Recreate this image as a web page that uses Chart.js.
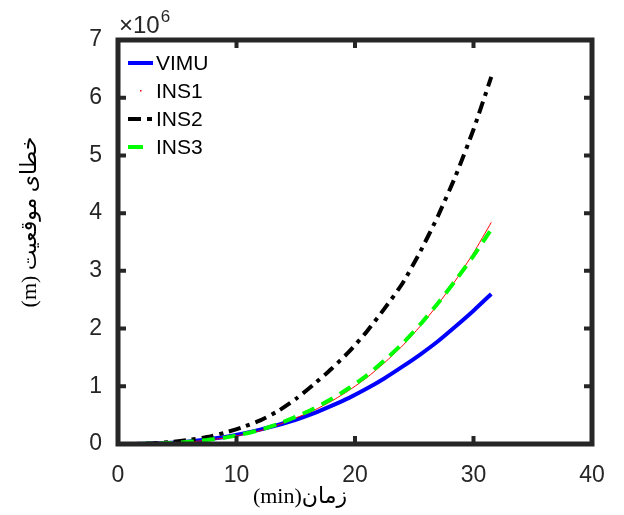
<!DOCTYPE html>
<html>
<head>
<meta charset="utf-8">
<script src="https://cdn.jsdelivr.net/npm/chart.js@4.4.0/dist/chart.umd.min.js"></script>
<style>
html,body{margin:0;background:#fff;}
#wrap{width:624px;height:515px;}
</style>
</head>
<body>
<div id="wrap"><canvas id="chart"></canvas></div>
<script>
// time axis (min) and position error in units of 1e6 m
const minutes=[0,1.5,3,4.5,6,7.5,9,10.5,12,13.5,15,16.5,18,19.5,21,22.5,24,25.5,27,28.5,30,31.5];
const vimu=[0,0.002,0.008,0.022,0.045,0.078,0.12,0.18,0.25,0.33,0.42,0.53,0.66,0.80,0.96,1.14,1.34,1.55,1.78,2.04,2.31,2.60];
const ins1=[0,0.001,0.006,0.017,0.036,0.065,0.105,0.16,0.23,0.33,0.45,0.58,0.74,0.93,1.15,1.41,1.70,2.04,2.42,2.84,3.31,3.84];
const ins2=[0,0.002,0.012,0.035,0.07,0.12,0.195,0.29,0.41,0.57,0.78,1.03,1.30,1.60,1.95,2.35,2.78,3.33,3.95,4.65,5.45,6.36];
const ins3=[0,0.001,0.006,0.018,0.038,0.068,0.11,0.17,0.245,0.345,0.47,0.61,0.78,0.97,1.19,1.45,1.74,2.07,2.44,2.84,3.26,3.72];
const seriesNames=['VIMU','INS1','INS2','INS3'];
const xTitle='زمان(min)';
const yTitle='خطای موقعیت (m)';

const AX='#262626';
const pts=arr=>arr.map((v,i)=>({x:minutes[i],y:v}));
// legend sample dash (matlab shows a shorter piece of the pattern)
const legendDash={INS2:[13,6,5,6],INS3:[15,30]};

const boxPlugin={
  id:'matlabBox',
  afterDatasetsDraw(chart){
    const {ctx,chartArea:{left,top,right,bottom},scales:{x,y}}=chart;
    ctx.save();
    // axes box + inward ticks on all four sides
    ctx.strokeStyle=AX; ctx.lineWidth=5; ctx.lineCap='butt';
    ctx.strokeRect(left,top,right-left,bottom-top);
    ctx.beginPath();
    x.ticks.forEach(t=>{
      const px=x.getPixelForValue(t.value);
      ctx.moveTo(px,bottom); ctx.lineTo(px,bottom-8);
      ctx.moveTo(px,top); ctx.lineTo(px,top+8);
    });
    y.ticks.forEach(t=>{
      const py=y.getPixelForValue(t.value);
      ctx.moveTo(left,py); ctx.lineTo(left+8,py);
      ctx.moveTo(right,py); ctx.lineTo(right-8,py);
    });
    ctx.lineWidth=4;
    ctx.stroke();

    // legend (top-left inside the axes)
    const rows=[63,91,119,147];
    chart.data.datasets.forEach((ds,i)=>{
      const ry=rows[i];
      ctx.strokeStyle=ds.borderColor; ctx.lineWidth=ds.borderWidth;
      ctx.setLineDash(legendDash[ds.label]||ds.borderDash||[]);
      if(ds.borderWidth<=1){
        ctx.fillStyle=ds.borderColor; ctx.fillRect(140,ry-1,1.5,1.5);
      } else {
        ctx.beginPath(); ctx.moveTo(128,ry); ctx.lineTo(153,ry); ctx.stroke();
      }
      ctx.setLineDash([]);
      ctx.fillStyle='#000'; ctx.font='21px "Liberation Sans", Arial, sans-serif';
      ctx.textAlign='left'; ctx.textBaseline='middle';
      ctx.fillText(ds.label,156,ry+1);
    });

    // exponent label
    ctx.fillStyle=AX; ctx.textBaseline='alphabetic'; ctx.textAlign='left';
    ctx.font='24px "Liberation Sans", Arial, sans-serif';
    ctx.fillText('×10',119,33);
    const w=ctx.measureText('×10').width;
    ctx.font='17px "Liberation Sans", Arial, sans-serif';
    ctx.fillText('6',119+w+1,22);

    // axis titles (Persian, right-to-left)
    ctx.direction='rtl'; ctx.textAlign='center'; ctx.textBaseline='middle';
    ctx.fillStyle='#000';
    ctx.font='22px "Liberation Serif", "DejaVu Sans", serif';
    ctx.fillText(xTitle,300,497);
    ctx.translate(30,222); ctx.rotate(-Math.PI/2);
    ctx.fillText(yTitle,0,0);
    ctx.restore();
  }
};

new Chart(document.getElementById('chart'),{
  type:'line',
  data:{datasets:[
    {label:seriesNames[0],data:pts(vimu),borderColor:'#0000ff',borderWidth:4,order:4},
    {label:seriesNames[1],data:pts(ins1),borderColor:'#ff0000',borderWidth:1,order:3},
    {label:seriesNames[2],data:pts(ins2),borderColor:'#000000',borderWidth:4,borderDash:[12,6,4,6],order:2},
    {label:seriesNames[3],data:pts(ins3),borderColor:'#00ff00',borderWidth:4,borderDash:[13,8],order:1}
  ]},
  options:{
    responsive:true,maintainAspectRatio:false,animation:false,
    layout:{padding:{left:0,top:40,right:32,bottom:0}},
    elements:{point:{radius:0},line:{tension:0.2,borderCapStyle:'butt'}},
    plugins:{legend:{display:false},tooltip:{enabled:false}},
    scales:{
      x:{type:'linear',min:0,max:40,
        grid:{display:false},border:{display:false},
        ticks:{stepSize:10,padding:10,color:AX,font:{family:'"Liberation Sans", Arial, sans-serif',size:23}},
        afterFit:s=>{s.height=71;}},
      y:{type:'linear',min:0,max:7,
        grid:{display:false},border:{display:false},
        ticks:{stepSize:1,padding:8,color:AX,font:{family:'"Liberation Sans", Arial, sans-serif',size:23}},
        afterFit:s=>{s.width=118;}}
    }
  },
  plugins:[boxPlugin]
});
</script>
</body>
</html>
